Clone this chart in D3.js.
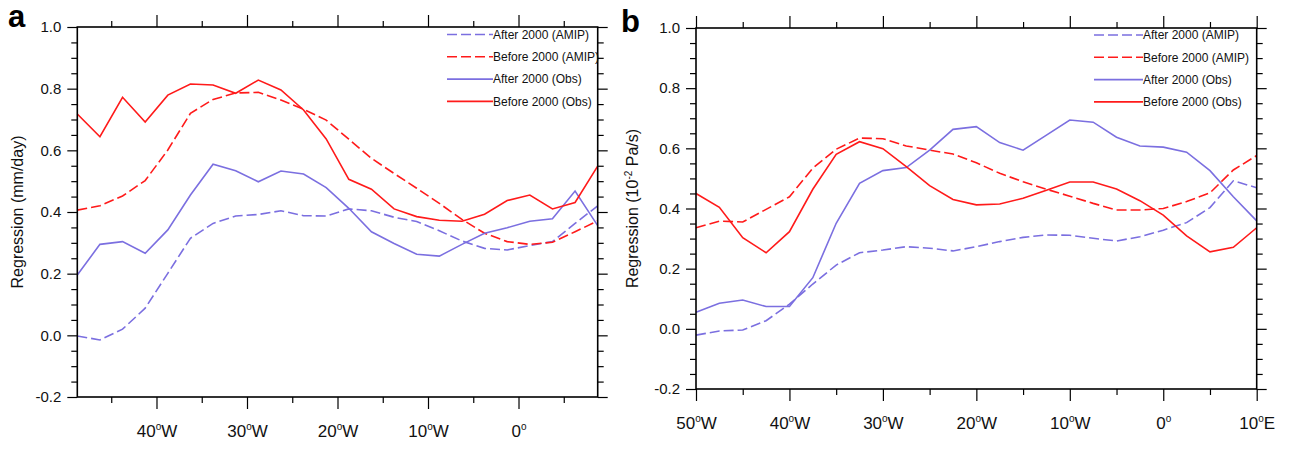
<!DOCTYPE html>
<html>
<head>
<meta charset="utf-8">
<script src="https://cdn.jsdelivr.net/npm/d3@7"></script>
<style>
  html, body { margin: 0; padding: 0; background: #fff; }
  svg { display: block; font-family: "Liberation Sans", Arial, Helvetica, sans-serif; }
</style>
</head>
<body>
<svg id="chart" width="1289" height="449"></svg>
<script>
// panel a: precipitation regression, 2.5 deg grid
const lonA = [-48.75, -46.25, -43.75, -41.25, -38.75, -36.25, -33.75, -31.25, -28.75, -26.25, -23.75, -21.25,
  -18.75, -16.25, -13.75, -11.25, -8.75, -6.25, -3.75, -1.25, 1.25, 3.75, 6.25, 8.75];
const afterAmipA = [-0.002, -0.015, 0.020, 0.088, 0.201, 0.315, 0.363, 0.387, 0.392, 0.404, 0.388, 0.387,
  0.410, 0.404, 0.383, 0.369, 0.339, 0.306, 0.282, 0.277, 0.291, 0.304, 0.363, 0.420];
const beforeAmipA = [0.406, 0.420, 0.452, 0.502, 0.601, 0.720, 0.765, 0.786, 0.788, 0.763, 0.733, 0.698,
  0.636, 0.574, 0.525, 0.477, 0.428, 0.376, 0.331, 0.304, 0.295, 0.302, 0.336, 0.371];
const afterObsA = [0.196, 0.295, 0.304, 0.266, 0.342, 0.455, 0.555, 0.534, 0.498, 0.533, 0.523, 0.479,
  0.412, 0.336, 0.298, 0.263, 0.257, 0.295, 0.331, 0.349, 0.370, 0.378, 0.468, 0.356];
const beforeObsA = [0.718, 0.644, 0.772, 0.692, 0.779, 0.815, 0.812, 0.785, 0.828, 0.796, 0.731, 0.637,
  0.506, 0.474, 0.410, 0.385, 0.373, 0.370, 0.393, 0.437, 0.455, 0.410, 0.431, 0.549];

// panel b: omega regression
const lonB = [-50, -47.5, -45, -42.5, -40, -37.5, -35, -32.5, -30, -27.5, -25, -22.5, -20,
  -17.5, -15, -12.5, -10, -7.5, -5, -2.5, 0, 2.5, 5, 7.5, 10];
const afterAmipB = [-0.021, -0.007, -0.004, 0.027, 0.082, 0.149, 0.212, 0.253, 0.262, 0.273, 0.268, 0.259, 0.273,
  0.290, 0.304, 0.312, 0.311, 0.301, 0.292, 0.306, 0.328, 0.353, 0.403, 0.492, 0.469];
const beforeAmipB = [0.336, 0.358, 0.355, 0.397, 0.439, 0.534, 0.597, 0.634, 0.632, 0.608, 0.594, 0.581, 0.552,
  0.517, 0.489, 0.464, 0.441, 0.417, 0.395, 0.395, 0.400, 0.423, 0.452, 0.528, 0.576];
const afterObsB = [0.055, 0.085, 0.096, 0.074, 0.074, 0.170, 0.351, 0.484, 0.526, 0.536, 0.594, 0.663, 0.672,
  0.619, 0.594, 0.644, 0.694, 0.687, 0.637, 0.608, 0.604, 0.587, 0.526, 0.439, 0.359];
const beforeObsB = [0.450, 0.404, 0.303, 0.253, 0.323, 0.464, 0.580, 0.622, 0.599, 0.539, 0.476, 0.430, 0.412,
  0.415, 0.434, 0.461, 0.488, 0.488, 0.465, 0.426, 0.378, 0.309, 0.256, 0.271, 0.336];

const seriesNames = ["After 2000 (AMIP)", "Before 2000 (AMIP)", "After 2000 (Obs)", "Before 2000 (Obs)"];
const yMajor = [-0.2, 0.0, 0.2, 0.4, 0.6, 0.8, 1.0];
const yMinor = [-0.15, -0.1, -0.05, 0.05, 0.1, 0.15, 0.25, 0.3, 0.35, 0.45, 0.5, 0.55, 0.65, 0.7, 0.75, 0.85, 0.9, 0.95];
const xMajorA = [-40, -30, -20, -10, 0];
const xMinorA = [-45, -35, -25, -15, -5, 5];
const xMajorB = [-50, -40, -30, -20, -10, 0, 10];
const xMinorB = [-45, -35, -25, -15, -5, 5];

const BLUE = "#7b6fe0", RED = "#ff1a1a";
const styles = [
  { color: BLUE, dash: "10,4" },
  { color: RED, dash: "10,4" },
  { color: BLUE, dash: null },
  { color: RED, dash: null }
];

const svg = d3.select("#chart");

const lonLabel = (sel, d) => {
  const num = Math.abs(d);
  const hemi = d < 0 ? "W" : (d > 0 ? "E" : "");
  sel.text(null);
  sel.append("tspan").text(num);
  sel.append("tspan").attr("font-size", "10px").attr("dy", -7).text("o");
  if (hemi) sel.append("tspan").attr("dy", 7).text(hemi);
};

const drawPanel = (p) => {
  const g = svg.append("g");
  const x = d3.scaleLinear().domain(p.xDomain).range([p.left, p.right]);
  const y = d3.scaleLinear().domain([-0.2, 1.0]).range([p.bottom, p.top]);

  const styleAxis = (ag) => {
    ag.select(".domain").remove();
    ag.selectAll("line").attr("stroke", "#000").attr("stroke-width", 1.2);
    return ag;
  };

  // minor ticks on all four sides
  [[d3.axisLeft(y), p.left, 0, yMinor], [d3.axisRight(y), p.right, 0, yMinor],
   [d3.axisBottom(x), 0, p.bottom, p.xMinor], [d3.axisTop(x), 0, p.top, p.xMinor]]
    .forEach(([ax, tx, ty, vals]) => {
      styleAxis(g.append("g").attr("transform", `translate(${tx},${ty})`)
        .call(ax.tickValues(vals).tickSize(6).tickFormat("")));
    });

  // major ticks
  const left = styleAxis(g.append("g").attr("transform", `translate(${p.left},0)`)
    .call(d3.axisLeft(y).tickValues(yMajor).tickSize(10).tickPadding(6).tickFormat(d => d.toFixed(1))));
  left.selectAll("text").attr("font-size", "15px").attr("fill", "#111").attr("font-family", null);
  styleAxis(g.append("g").attr("transform", `translate(${p.right},0)`)
    .call(d3.axisRight(y).tickValues(yMajor).tickSize(10).tickFormat("")));
  styleAxis(g.append("g").attr("transform", `translate(0,${p.top})`)
    .call(d3.axisTop(x).tickValues(p.xMajor).tickSize(12).tickFormat("")));
  const bottom = styleAxis(g.append("g").attr("transform", `translate(0,${p.bottom})`)
    .call(d3.axisBottom(x).tickValues(p.xMajor).tickSize(12).tickPadding(p.xPad)));
  bottom.selectAll("text").attr("font-size", "17px").attr("fill", "#111").attr("font-family", null)
    .each(function (d) { lonLabel(d3.select(this), d); });

  // lines
  const line = d3.line().x((d, i) => x(p.lon[i])).y(d => y(d));
  p.series.forEach((vals, i) => {
    g.append("path").datum(vals)
      .attr("fill", "none")
      .attr("stroke", styles[i].color)
      .attr("stroke-width", 1.6)
      .attr("stroke-dasharray", styles[i].dash)
      .attr("d", line);
  });

  // frame
  g.append("rect")
    .attr("x", p.left).attr("y", p.top)
    .attr("width", p.right - p.left).attr("height", p.bottom - p.top)
    .attr("fill", "none").attr("stroke", "#000").attr("stroke-width", 1.6);

  // y label
  const yl = g.append("text")
    .attr("transform", `translate(${p.ylabX},${(p.top + p.bottom) / 2}) rotate(-90)`)
    .attr("text-anchor", "middle").attr("dy", "0.35em")
    .attr("font-size", "16px").attr("fill", "#111");
  p.ylabel(yl);

  // legend
  seriesNames.forEach((name, i) => {
    const ly = p.legY + i * 22.3;
    g.append("line")
      .attr("x1", p.legX - p.legLen).attr("x2", p.legX)
      .attr("y1", ly).attr("y2", ly)
      .attr("stroke", styles[i].color).attr("stroke-width", 1.6)
      .attr("stroke-dasharray", styles[i].dash);
    g.append("text").attr("x", p.legX).attr("y", ly).attr("dy", "0.36em")
      .attr("font-size", "12px").attr("fill", "#111").text(name);
  });

  // panel letter
  g.append("text").attr("x", p.tagX).attr("y", p.tagY)
    .attr("font-size", "31px").attr("font-weight", "bold").attr("fill", "#000").text(p.tag);
};

drawPanel({
  tag: "a", tagX: 8, tagY: 27,
  left: 77.3, right: 597.7, top: 27, bottom: 397,
  xDomain: [-48.75, 8.75], xMajor: xMajorA, xMinor: xMinorA, xPad: 16,
  lon: lonA, series: [afterAmipA, beforeAmipA, afterObsA, beforeObsA],
  ylabX: 17,
  ylabel: t => t.text("Regression (mm/day)"),
  legX: 493, legY: 34.5, legLen: 46
});

drawPanel({
  tag: "b", tagX: 621, tagY: 32,
  left: 696, right: 1256.7, top: 28, bottom: 389,
  xDomain: [-50, 10], xMajor: xMajorB, xMinor: xMinorB, xPad: 16,
  lon: lonB, series: [afterAmipB, beforeAmipB, afterObsB, beforeObsB],
  ylabX: 632,
  ylabel: t => {
    t.append("tspan").text("Regression (10");
    t.append("tspan").attr("font-size", "10px").attr("dy", -6).text("-2");
    t.append("tspan").attr("dy", 6).text(" Pa/s)");
  },
  legX: 1143, legY: 35, legLen: 49
});
</script>
</body>
</html>
